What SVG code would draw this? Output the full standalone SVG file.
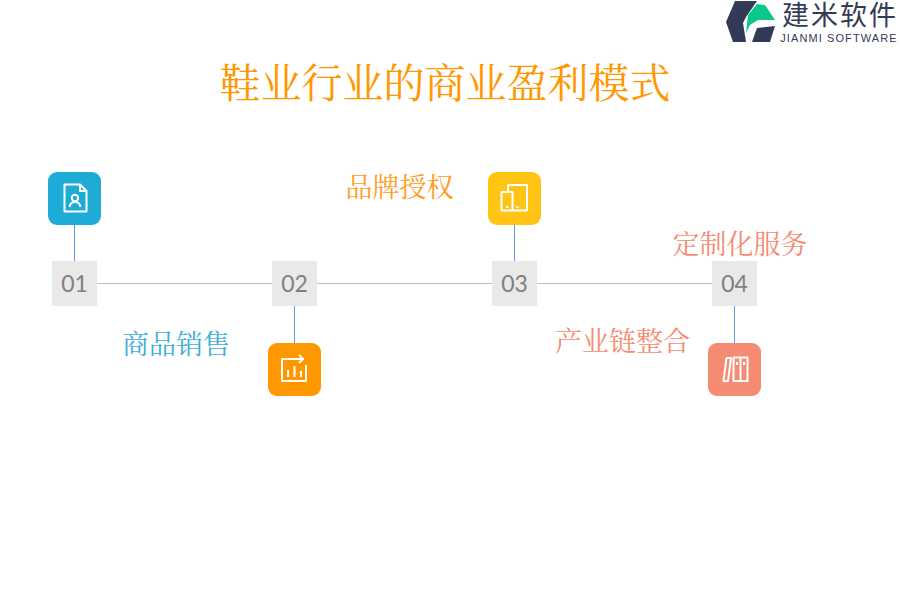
<svg xmlns="http://www.w3.org/2000/svg" width="900" height="600" viewBox="0 0 900 600">
<style>
.cjk{font-family:"Noto Sans CJK SC","Liberation Sans",sans-serif}
.ser{font-family:"Noto Serif CJK SC",serif}
.lab{font-size:27px;text-anchor:middle}
.num{font-family:Lato,"Noto Sans","Liberation Sans",sans-serif;font-size:23px;fill:#808080;text-anchor:middle}
.box{fill:#e9e9e9}
.ic{fill:none;stroke:#fff;stroke-width:2;stroke-linejoin:round}
.h{stroke:#bdbdbd;stroke-width:1}
.v{stroke:#5b9bea;stroke-width:1}
</style>
<rect width="900" height="600" fill="#fff"/>
<g id="logo">
<path d="M735 1L757 1L746 17L743 23L746 42L733 42L726 22Z" fill="#333a56"/>
<path d="M746 33L748 15L757 4L765 5L775 20L758 20L750 25Z" fill="#0cc68a"/>
<path d="M752 42L757 28L775 26L770 42Z" fill="#333a56"/>
<text x="840" y="25" class="cjk" font-size="27" letter-spacing="2" fill="#333a56" text-anchor="middle">建米软件</text>
<text x="839" y="42" font-family="Liberation Sans,sans-serif" font-size="11" letter-spacing="1.100" fill="#333a56" text-anchor="middle">JIANMI SOFTWARE</text>
</g>
<text id="title" x="445" y="98" class="ser" font-size="41" fill="#ff9800" text-anchor="middle">鞋业行业的商业盈利模式</text>
<g id="connectors">
<line class="h" x1="97" y1="283.500" x2="272" y2="283.500"/>
<line class="h" x1="317" y1="283.500" x2="492" y2="283.500"/>
<line class="h" x1="537" y1="283.500" x2="712" y2="283.500"/>
<line class="v" x1="74.500" y1="225" x2="74.500" y2="261"/>
<line class="v" x1="294.500" y1="306" x2="294.500" y2="343"/>
<line class="v" x1="514.500" y1="225" x2="514.500" y2="261"/>
<line class="v" x1="734.500" y1="306" x2="734.500" y2="343"/>
</g>
<g id="node1">
<rect x="48" y="172" width="53" height="53" rx="9" fill="#1eacd6"/>
<path class="ic" d="M64.500 184.500H80L86.500 191V211.500H64.500Z"/>
<path class="ic" d="M80 185V191H86" stroke-width="1.500"/>
<circle class="ic" cx="75" cy="198" r="3.200"/>
<path class="ic" d="M69.500 207C70 203.500 72 202 75 202S80 203.500 80.500 207"/>
<rect class="box" x="52" y="261" width="45" height="45"/>
<text class="num" x="74.500" y="292">01</text>
<text class="ser lab" x="176" y="354" fill="#3eaed6">商品销售</text>
</g>
<g id="node2">
<rect x="268" y="343" width="53" height="53" rx="9" fill="#ff9800"/>
<path class="ic" d="M300 359H282V381H306V365"/>
<path class="ic" d="M292 359H302M299 355L303 359L299 363"/>
<path class="ic" d="M288 370V377M294.500 366V377M301 371V377"/>
<rect class="box" x="272" y="261" width="45" height="45"/>
<text class="num" x="294.500" y="292">02</text>
<text class="ser lab" x="399.500" y="197" fill="#ff9d1e">品牌授权</text>
</g>
<g id="node3">
<rect x="488" y="172" width="53" height="53" rx="9" fill="#ffc414"/>
<path class="ic" d="M508 191V185H527V210.500H513"/>
<rect class="ic" x="501.500" y="192" width="11" height="18.500"/>
<path class="ic" d="M506 207H508.500M516 207H518.500"/>
<rect class="box" x="492" y="261" width="45" height="45"/>
<text class="num" x="514.500" y="292">03</text>
<text class="ser lab" x="740" y="254" fill="#f58b72">定制化服务</text>
</g>
<g id="node4">
<rect x="708" y="343" width="53" height="53" rx="9" fill="#f58b72"/>
<path class="ic" d="M726.500 358H731L728 381H723.500Z"/>
<rect class="ic" x="733.500" y="357.500" width="14" height="23.500"/>
<path class="ic" d="M740.500 358V381M737 362V365M744 362V365"/>
<rect class="box" x="712" y="261" width="45" height="45"/>
<text class="num" x="734.500" y="292">04</text>
<text class="ser lab" x="622.500" y="351" fill="#f58b72">产业链整合</text>
</g>
</svg>
